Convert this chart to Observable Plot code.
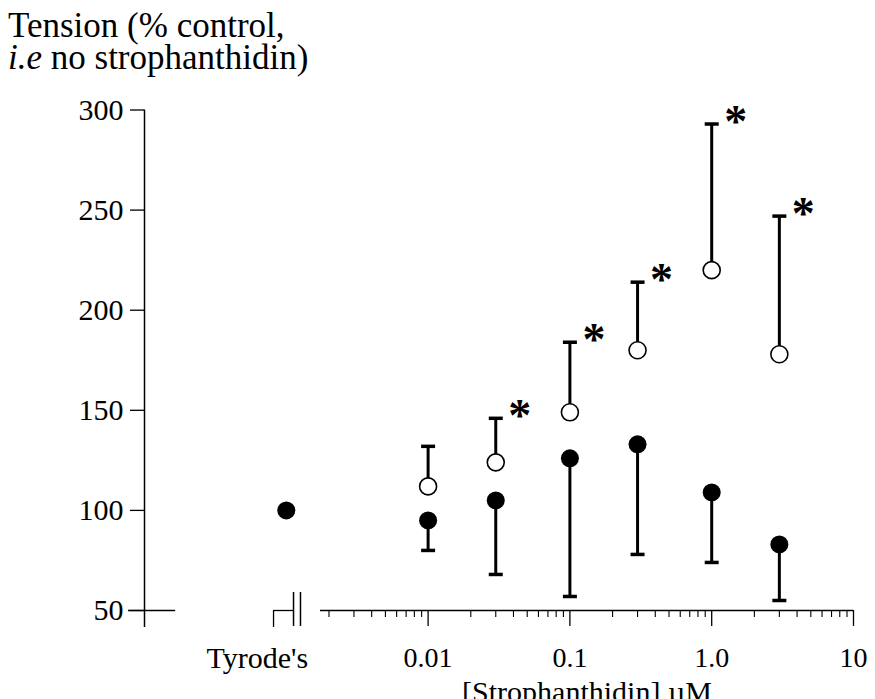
<!DOCTYPE html>
<html>
<head>
<meta charset="utf-8">
<script src="https://cdn.jsdelivr.net/npm/d3@7"></script>
<script src="https://cdn.jsdelivr.net/npm/@observablehq/plot@0.6"></script>
<style>
  html, body { margin: 0; padding: 0; background: #fff; }
  body { width: 875px; height: 699px; overflow: hidden; color: #000; }
  #title {
    font-family: "Liberation Serif", "Times New Roman", serif;
    height: 85px; box-sizing: border-box; padding: 10px 0 0 8px;
    font-size: 35px; line-height: 32px; white-space: nowrap;
  }
  #chart svg { display: block; }
</style>
</head>
<body>
<div id="title">Tension (% control,<br><i>i.e</i> no strophanthidin)</div>
<div id="chart"></div>
<script>
// Strophanthidin concentrations (µM)
const conc = [0.01, 0.03, 0.1, 0.3, 1, 3];
// Open circles: mean tension (% control) and top of the error bar
const openMean = [112, 124, 149, 180, 220, 178];
const openUpper = [132, 146, 184, 214, 293, 247];
// Filled circles: mean tension (% control) and bottom of the error bar
const filledMean = [95, 105, 126, 133, 109, 83];
const filledLower = [80, 68, 57, 78, 74, 55];
// Open-circle points marked as significant
const significant = [false, true, true, true, true, true];
// Tyrode's (no drug) reference point, placed one decade left of 0.01 µM
const tyrodeLabel = "Tyrode's";
const tyrodeConc = 0.001;
const tyrodeMean = 100;
// Tick labels
const yTicks = [50, 100, 150, 200, 250, 300];
const xTicks = [0.01, 0.1, 1, 10];
const xTickLabels = ["0.01", "0.1", "1.0", "10"];
const xLabel = "[Strophanthidin] µM";

const font = '"Liberation Serif", "Times New Roman", serif';

const openRows = conc.map((c, i) => ({c, mean: openMean[i], err: openUpper[i], star: significant[i]}));
const filledRows = conc.map((c, i) => ({c, mean: filledMean[i], err: filledLower[i]}));
const tyrodeRows = [{c: tyrodeConc, mean: tyrodeMean}];

// Horizontal bar used as an error-bar cap
const cap = {
  draw(ctx, size) {
    const r = Math.sqrt(size / Math.PI);
    ctx.moveTo(-r, 0);
    ctx.lineTo(r, 0);
  }
};

// Broken x axis: pieces expressed in concentration units
const yAxisAt = 1e-4;
const leftStub = [10 ** -4.113, 10 ** -3.78];
const tyrodeSeg = [10 ** -3.09, 10 ** -2.949];
const breakLines = [10 ** -2.949, 10 ** -2.9];
const logStart = 10 ** -2.759;
const minorTicks = d3.range(-3, 1)
  .flatMap(e => d3.range(2, 10).map(k => k * 10 ** e))
  .filter(v => v > logStart);

const chart = Plot.plot({
  width: 875,
  height: 614,
  marginLeft: 144,
  marginRight: 22,
  marginTop: 24.5,
  marginBottom: 89,
  x: {type: "log", domain: [1e-4, 10]},
  y: {domain: [50, 300]},
  style: {fontFamily: font, color: "#000", background: "#fff", overflow: "visible"},
  marks: [
    // y axis
    Plot.ruleX([yAxisAt], {y1: 41.5, y2: 300, strokeWidth: 1.5}),
    Plot.axisY({ticks: yTicks, tickSize: 14, tickPadding: 7, fontSize: 30, label: null, strokeWidth: 1.3}),
    // x axis: short stub at the origin, Tyrode's segment, break, log segment
    Plot.ruleY([50], {x1: leftStub[0], x2: leftStub[1], strokeWidth: 1.3}),
    Plot.ruleY([50], {x1: tyrodeSeg[0], x2: tyrodeSeg[1], strokeWidth: 1.3}),
    Plot.ruleX([tyrodeSeg[0]], {y1: 50, y2: 41.5, strokeWidth: 1.3}),
    Plot.ruleX(breakLines, {y1: 59, y2: 42, strokeWidth: 1.5}),
    Plot.ruleY([50], {x1: logStart, x2: 10, strokeWidth: 1.3}),
    Plot.axisX({ticks: minorTicks, tickSize: 7, tickFormat: () => "", label: null, strokeWidth: 1.1}),
    Plot.axisX({ticks: xTicks, tickSize: 16, tickPadding: 21, fontSize: 28, label: null, strokeWidth: 1.3,
      tickFormat: d => xTickLabels[xTicks.indexOf(d)]}),
    Plot.text([tyrodeLabel], {x: tyrodeConc, y: 50, text: d => d, dx: -29, dy: 36, lineAnchor: "top", fontSize: 30}),
    Plot.text([xLabel], {frameAnchor: "bottom", text: d => d, dx: 88, dy: 91, lineAnchor: "bottom", fontSize: 30}),
    // error bars
    Plot.ruleX(openRows, {x: "c", y1: "mean", y2: "err", strokeWidth: 3}),
    Plot.dot(openRows, {x: "c", y: "err", symbol: cap, r: 7, stroke: "black", fill: "none", strokeWidth: 3.5}),
    Plot.ruleX(filledRows, {x: "c", y1: "mean", y2: "err", strokeWidth: 3}),
    Plot.dot(filledRows, {x: "c", y: "err", symbol: cap, r: 7, stroke: "black", fill: "none", strokeWidth: 3.5}),
    // means
    Plot.dot(openRows, {x: "c", y: "mean", r: 8.5, fill: "white", stroke: "black", strokeWidth: 1.6}),
    Plot.dot(filledRows, {x: "c", y: "mean", r: 9, fill: "black", stroke: "none"}),
    Plot.dot(tyrodeRows, {x: "c", y: "mean", r: 9, fill: "black", stroke: "none"}),
    // significance markers
    Plot.text(openRows.filter(d => d.star), {x: "c", y: "err", text: () => "*", dx: 24, dy: -2, fontSize: 46, fontWeight: "bold"})
  ]
});

document.getElementById("chart").appendChild(chart);
</script>
</body>
</html>
